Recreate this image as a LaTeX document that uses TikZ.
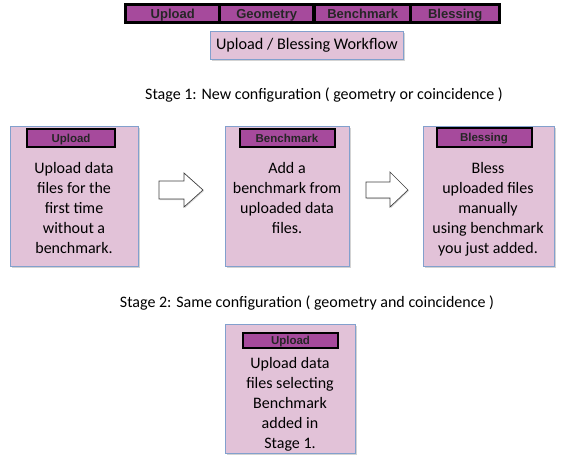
\documentclass[tikz,border=0pt]{standalone}
\usepackage{fontspec}
\setmainfont{Carlito}
\newfontfamily\badgefont{Liberation Sans}
\usetikzlibrary{shadows}
\definecolor{boxfill}{RGB}{226,194,216}
\definecolor{boxline}{RGB}{130,160,205}
\definecolor{badgefill}{RGB}{166,74,156}
\tikzset{
  panel/.style={draw=boxline, line width=0.8pt, fill=boxfill, anchor=north west, inner sep=0pt,
    drop shadow={shadow xshift=1.2pt, shadow yshift=-1.5pt, opacity=0.35, fill=gray}},
  badge/.style={draw=black, line width=2pt, fill=badgefill, inner sep=0pt,
    text height=8.3pt, text depth=0pt,
    font=\badgefont\bfseries\fontsize{11.5}{12}\selectfont, text=black!85},
  tab/.style={fill=badgefill, inner sep=0pt, anchor=north west,
    text height=9.4pt, text depth=0pt,
    font=\badgefont\bfseries\fontsize{13}{14}\selectfont, text=black!85},
  body/.style={align=center, anchor=north, inner sep=0pt, font=\fontsize{16}{20}\selectfont},
  stagetxt/.style={font=\fontsize{16}{18}\selectfont, inner sep=0pt},
  blockarrow/.style={draw=black!75, line width=0.7pt, fill=white,
    drop shadow={shadow xshift=1pt, shadow yshift=-1pt, opacity=0.3, fill=gray}}
}
\begin{document}
\begin{tikzpicture}[x=1pt, y=-1pt]
\useasboundingbox (0,0) rectangle (565,467);
% top bar
\node[fill=black, anchor=north west, minimum width=377pt, minimum height=21pt, inner sep=0pt] (bar) at (124,3) {};
\node[tab, minimum width=91pt, minimum height=15pt] (t1) at (127,6) {Upload};
\node[tab, minimum width=91pt, minimum height=15pt] (t2) at (221,6) {Geometry};
\node[tab, minimum width=93pt, minimum height=15pt] (t3) at (316,6) {Benchmark};
\node[tab, minimum width=86pt, minimum height=15pt] (t4) at (412,6) {Blessing};
% title
\node[panel, minimum width=193pt, minimum height=28pt, font=\fontsize{16.2}{18}\selectfont] (title) at (210,31) {Upload / Blessing Workflow};
% stage 1
\node[stagetxt] (s1) at (324,95) {Stage 1: New configuration ( geometry or coincidence )};
\node[panel, minimum width=128pt, minimum height=140pt] (b1) at (10,126) {};
\node[panel, minimum width=124pt, minimum height=140pt] (b2) at (225,126) {};
\node[panel, minimum width=131pt, minimum height=140pt] (b3) at (423,126) {};
\node[badge, minimum width=88pt, minimum height=18pt] (g1) at (71,138) {Upload};
\node[badge, minimum width=95pt, minimum height=18pt] (g2) at (287,138) {Benchmark};
\node[badge, minimum width=95pt, minimum height=19pt] (g3) at (484,137.5) {Blessing};
\node[body] (x1) at (74,162) {Upload data\\files for the\\first time\\without a\\benchmark.};
\node[body] (x2) at (287,162) {Add a\\benchmark from\\uploaded data\\files.};
\node[body] (x3) at (488,162) {Bless\\uploaded files\\manually\\using benchmark\\you just added.};
% block arrows
\draw[blockarrow] (159,181) -- (184,181) -- (184,173) -- (203,190) -- (184,207) -- (184,199) -- (159,199) -- cycle;
\draw[blockarrow] (366,182) -- (390,182) -- (390,172) -- (408,190) -- (390,207) -- (390,198) -- (366,198) -- cycle;
% stage 2
\node[stagetxt] (s2) at (307,303) {Stage 2: Same configuration ( geometry and coincidence )};
\node[panel, minimum width=130pt, minimum height=129pt] (b4) at (225,324) {};
\node[badge, minimum width=95pt, minimum height=15pt] (g4) at (290.5,340.5) {Upload};
\node[body] (x4) at (290,357) {Upload data\\files selecting\\Benchmark\\added in\\Stage 1.};
\end{tikzpicture}
\end{document}
